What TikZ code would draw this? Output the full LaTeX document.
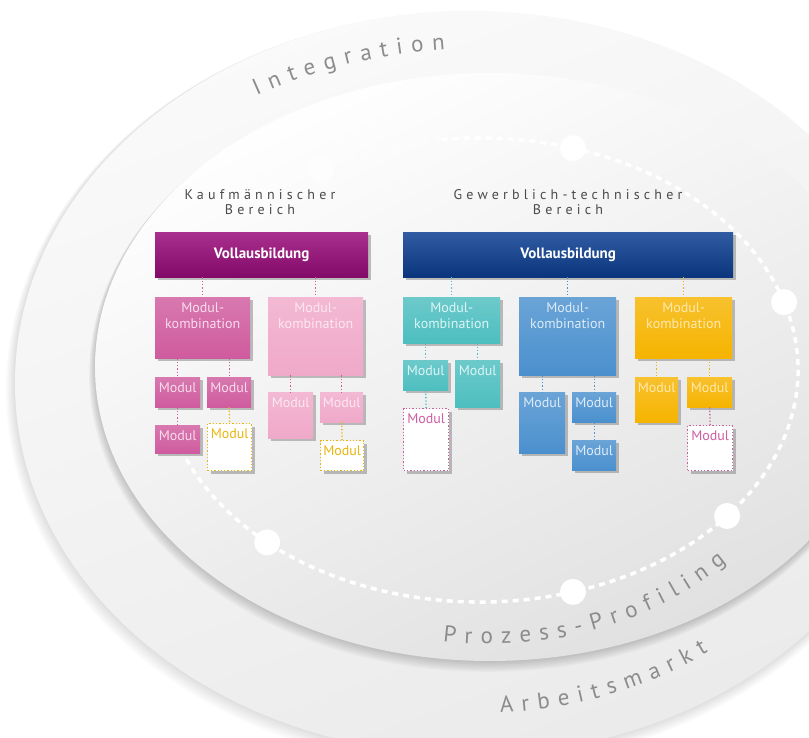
\documentclass[tikz,border=0pt]{standalone}
\usepackage{fontspec}
\setmainfont{PT Sans}
\newfontfamily\headfont[LetterSpace=30]{PT Sans}
\usepackage{tikz}
\usetikzlibrary{shadows}

\definecolor{barmag}{HTML}{9A0B7B}
\definecolor{midmag}{HTML}{CF5B9E}
\definecolor{lightmag}{HTML}{F0A9C9}
\definecolor{barblue}{HTML}{0C3F93}
\definecolor{boxteal}{HTML}{4DBEBF}
\definecolor{boxblue}{HTML}{4A90CE}
\definecolor{boxyellow}{HTML}{F6B400}
\definecolor{dotyellow}{HTML}{E8B611}
\definecolor{dotpink}{HTML}{CD5FA0}
\definecolor{mmtext}{HTML}{F9DDEC}
\definecolor{lmtext}{HTML}{FCE8F1}
\definecolor{ttext}{HTML}{DDF5F5}
\definecolor{btext}{HTML}{DDEBF8}
\definecolor{ytext}{HTML}{FFE9B0}
\definecolor{ringgray}{HTML}{8C8C8C}
\definecolor{headgray}{HTML}{4A4A4A}

% box text, top aligned: width, height, text
\newcommand\mtext[3]{\parbox[c][#2pt][t]{#1pt}{\centering\rule{0pt}{15pt}#3}}

% letters on an ellipse: cx, cy, rx, ry, start angle, direction, letters
\def\ringgap{8.5}
\newcommand\ringtext[7]{%
  \xdef\ringangle{#5}\xdef\ringlast{0pt}%
  \foreach \ringch in {#7}{%
    \pgfinterruptpicture
      \setbox0=\hbox{\fontsize{23}{23}\selectfont\ringch}\xdef\ringw{\the\wd0}%
    \endpgfinterruptpicture
    \pgfmathsetmacro\ringspeed{100*sqrt((#3/100*sin(\ringangle))^2+(#4/100*cos(\ringangle))^2)}%
    \pgfmathsetmacro\ringt{\ringangle+(#6)*((\ringlast+\ringw)/2+\ringgap)/\ringspeed*180/pi}%
    \pgfmathsetmacro\ringrot{atan2((#6)*#4*cos(\ringt),-(#6)*#3*sin(\ringt))}%
    \node[ringletter,rotate=\ringrot] at ({#1+#3*cos(\ringt)},{#2+#4*sin(\ringt)}) {\ringch};
    \xdef\ringangle{\ringt}\xdef\ringlast{\ringw}%
  }%
}

\begin{document}
\begin{tikzpicture}[x=1pt,y=1pt,
  mbox/.style={rectangle,inner sep=0pt,anchor=north west,font=\fontsize{14}{16}\selectfont,
    drop shadow={shadow xshift=3pt,shadow yshift=-3pt,opacity=.5}},
  barbox/.style={mbox,minimum height=45pt,top color=#1!85!white,bottom color=#1!85!black,
    text=white,font=\fontsize{15}{18}\selectfont\bfseries},
  kbox/.style 2 args={mbox,top color=#1!82!white,bottom color=#1,text=#2},
  dbox/.style={mbox,fill=white,draw=#1,dotted,line width=1.3pt,text=#1},
  conn/.style={draw=#1,dotted,line width=1.3pt},
  head/.style={align=center,font=\headfont\fontsize{14}{15}\selectfont,text=headgray},
  ringletter/.style={font=\fontsize{23}{23}\selectfont,text=ringgray,inner sep=0pt,anchor=base},
  ringdot/.style={circle,fill=white,minimum size=26pt,inner sep=0pt}]
\useasboundingbox (0,0) rectangle (809,737);
\clip (0,0) rectangle (809,737);
\fill[white] (0,0) rectangle (809,737);

% outer ring
\foreach \s in {1,...,6}
  \fill[black,opacity=.02] (470-\s*.5,354-\s*1.2) ellipse [x radius={455+\s}, y radius={372+\s}];
\path[top color=black!2,bottom color=black!8,shading angle=20] (470,354) ellipse [x radius=455, y radius=372];

% inner ring
\foreach \s in {1,...,6}
  \fill[black,opacity=.03] (490-\s*.4,370-\s*1.2) ellipse [x radius={395+\s*.6}, y radius={294+\s*.6}];
\path[top color=white,bottom color=black!12,shading angle=25] (490,370) ellipse [x radius=395, y radius=294];

% dashed cycle
\draw[white,line width=3.5pt,dash pattern=on 6pt off 5pt]
  (480,367) ++(200:318 and 232) arc[start angle=200, end angle=457, x radius=318, y radius=232];
\draw[white,opacity=.45,line width=3.5pt,dash pattern=on 6pt off 5pt]
  (480,367) ++(97:318 and 232) arc[start angle=97, end angle=130, x radius=318, y radius=232];
\foreach \a [count=\i] in {73,17,-39,-73,228}
  \node[ringdot] (dot\i) at ({480+318*cos(\a)},{367+232*sin(\a)}) {};
\node[ringdot,opacity=.5] (dot6) at ({480+318*cos(120)},{367+232*sin(120)}) {};

% ring labels
\ringtext{480}{370}{430}{318}{122.5}{-1}{I,n,t,e,g,r,a,t,i,o,n}
\ringtext{490}{370}{333}{277}{260.4}{1}{P,r,o,z,e,s,s,-,P,r,o,f,i,l,i,n,g}
\ringtext{480}{362}{398}{338}{271.7}{1}{A,r,b,e,i,t,s,m,a,r,k,t}

% headings
\node[head] (lhead) at (260,535) {Kaufmännischer\\Bereich};
\node[head] (rhead) at (568,535) {Gewerblich-technischer\\Bereich};

% left block
\node[barbox=barmag,minimum width=213pt] (lv) at (155,505) {Vollausbildung};
\node[kbox={midmag}{mmtext}] (lmk1) at (155,440) {\mtext{95}{61}{Modul-\\kombination}};
\node[kbox={lightmag}{lmtext}] (lmk2) at (268,440) {\mtext{95}{78}{Modul-\\kombination}};
\node[kbox={midmag}{mmtext}] (lm1) at (155,360) {\mtext{45}{30}{Modul}};
\node[kbox={midmag}{mmtext}] (lm2) at (207,360) {\mtext{44}{30}{Modul}};
\node[kbox={midmag}{mmtext}] (lm3) at (155,312) {\mtext{45}{28}{Modul}};
\node[dbox=dotyellow] (lm4) at (207,314) {\mtext{44}{47}{Modul}};
\node[kbox={lightmag}{lmtext}] (lm5) at (268,345) {\mtext{45}{46}{Modul}};
\node[kbox={lightmag}{lmtext}] (lm6) at (320,345) {\mtext{43}{30}{Modul}};
\node[dbox=dotyellow] (lm7) at (320,297) {\mtext{43}{30}{Modul}};

% right block
\node[barbox=barblue,minimum width=330pt] (rv) at (403,505) {Vollausbildung};
\node[kbox={boxteal}{ttext}] (tmk) at (403,440) {\mtext{97}{46}{Modul-\\kombination}};
\node[kbox={boxteal}{ttext}] (tm1) at (403,377) {\mtext{45}{30}{Modul}};
\node[kbox={boxteal}{ttext}] (tm2) at (455,377) {\mtext{45}{47}{Modul}};
\node[dbox=dotpink] (tm3) at (403,329) {\mtext{45}{62}{Modul}};
\node[kbox={boxblue}{btext}] (bmk) at (519,440) {\mtext{97}{78}{Modul-\\kombination}};
\node[kbox={boxblue}{btext}] (bm1) at (519,345) {\mtext{46}{61}{Modul}};
\node[kbox={boxblue}{btext}] (bm2) at (572,345) {\mtext{44}{30}{Modul}};
\node[kbox={boxblue}{btext}] (bm3) at (572,297) {\mtext{44}{30}{Modul}};
\node[kbox={boxyellow}{ytext}] (ymk) at (635,440) {\mtext{97}{61}{Modul-\\kombination}};
\node[kbox={boxyellow}{ytext}] (ym1) at (635,360) {\mtext{43}{45}{Modul}};
\node[kbox={boxyellow}{ytext}] (ym2) at (687,360) {\mtext{45}{30}{Modul}};
\node[dbox=dotpink] (ym3) at (687,312) {\mtext{45}{45}{Modul}};

% connectors
\path[conn=midmag]
  (lv.south -| lmk1) edge (lmk1.north)
  (lv.south -| lmk2) edge (lmk2.north)
  (lmk1.south -| lm1) edge (lm1.north)
  (lmk1.south -| lm2) edge (lm2.north)
  (lm1.south) edge (lm3.north)
  (lmk2.south -| lm5) edge (lm5.north)
  (lmk2.south -| lm6) edge (lm6.north);
\path[conn=dotyellow]
  (lm2.south) edge (lm4.north)
  (lm6.south) edge (lm7.north)
  (rv.south -| ymk) edge (ymk.north)
  (ymk.south -| ym1) edge (ym1.north)
  (ymk.south -| ym2) edge (ym2.north);
\path[conn=boxteal]
  (rv.south -| tmk) edge (tmk.north)
  (tmk.south -| tm1) edge (tm1.north)
  (tmk.south -| tm2) edge (tm2.north)
  (tm1.south) edge (tm3.north);
\path[conn=boxblue]
  (rv.south -| bmk) edge (bmk.north)
  (bmk.south -| bm1) edge (bm1.north)
  (bmk.south -| bm2) edge (bm2.north)
  (bm2.south) edge (bm3.north);
\path[conn=dotpink]
  (ym2.south) edge (ym3.north);
\end{tikzpicture}
\end{document}
